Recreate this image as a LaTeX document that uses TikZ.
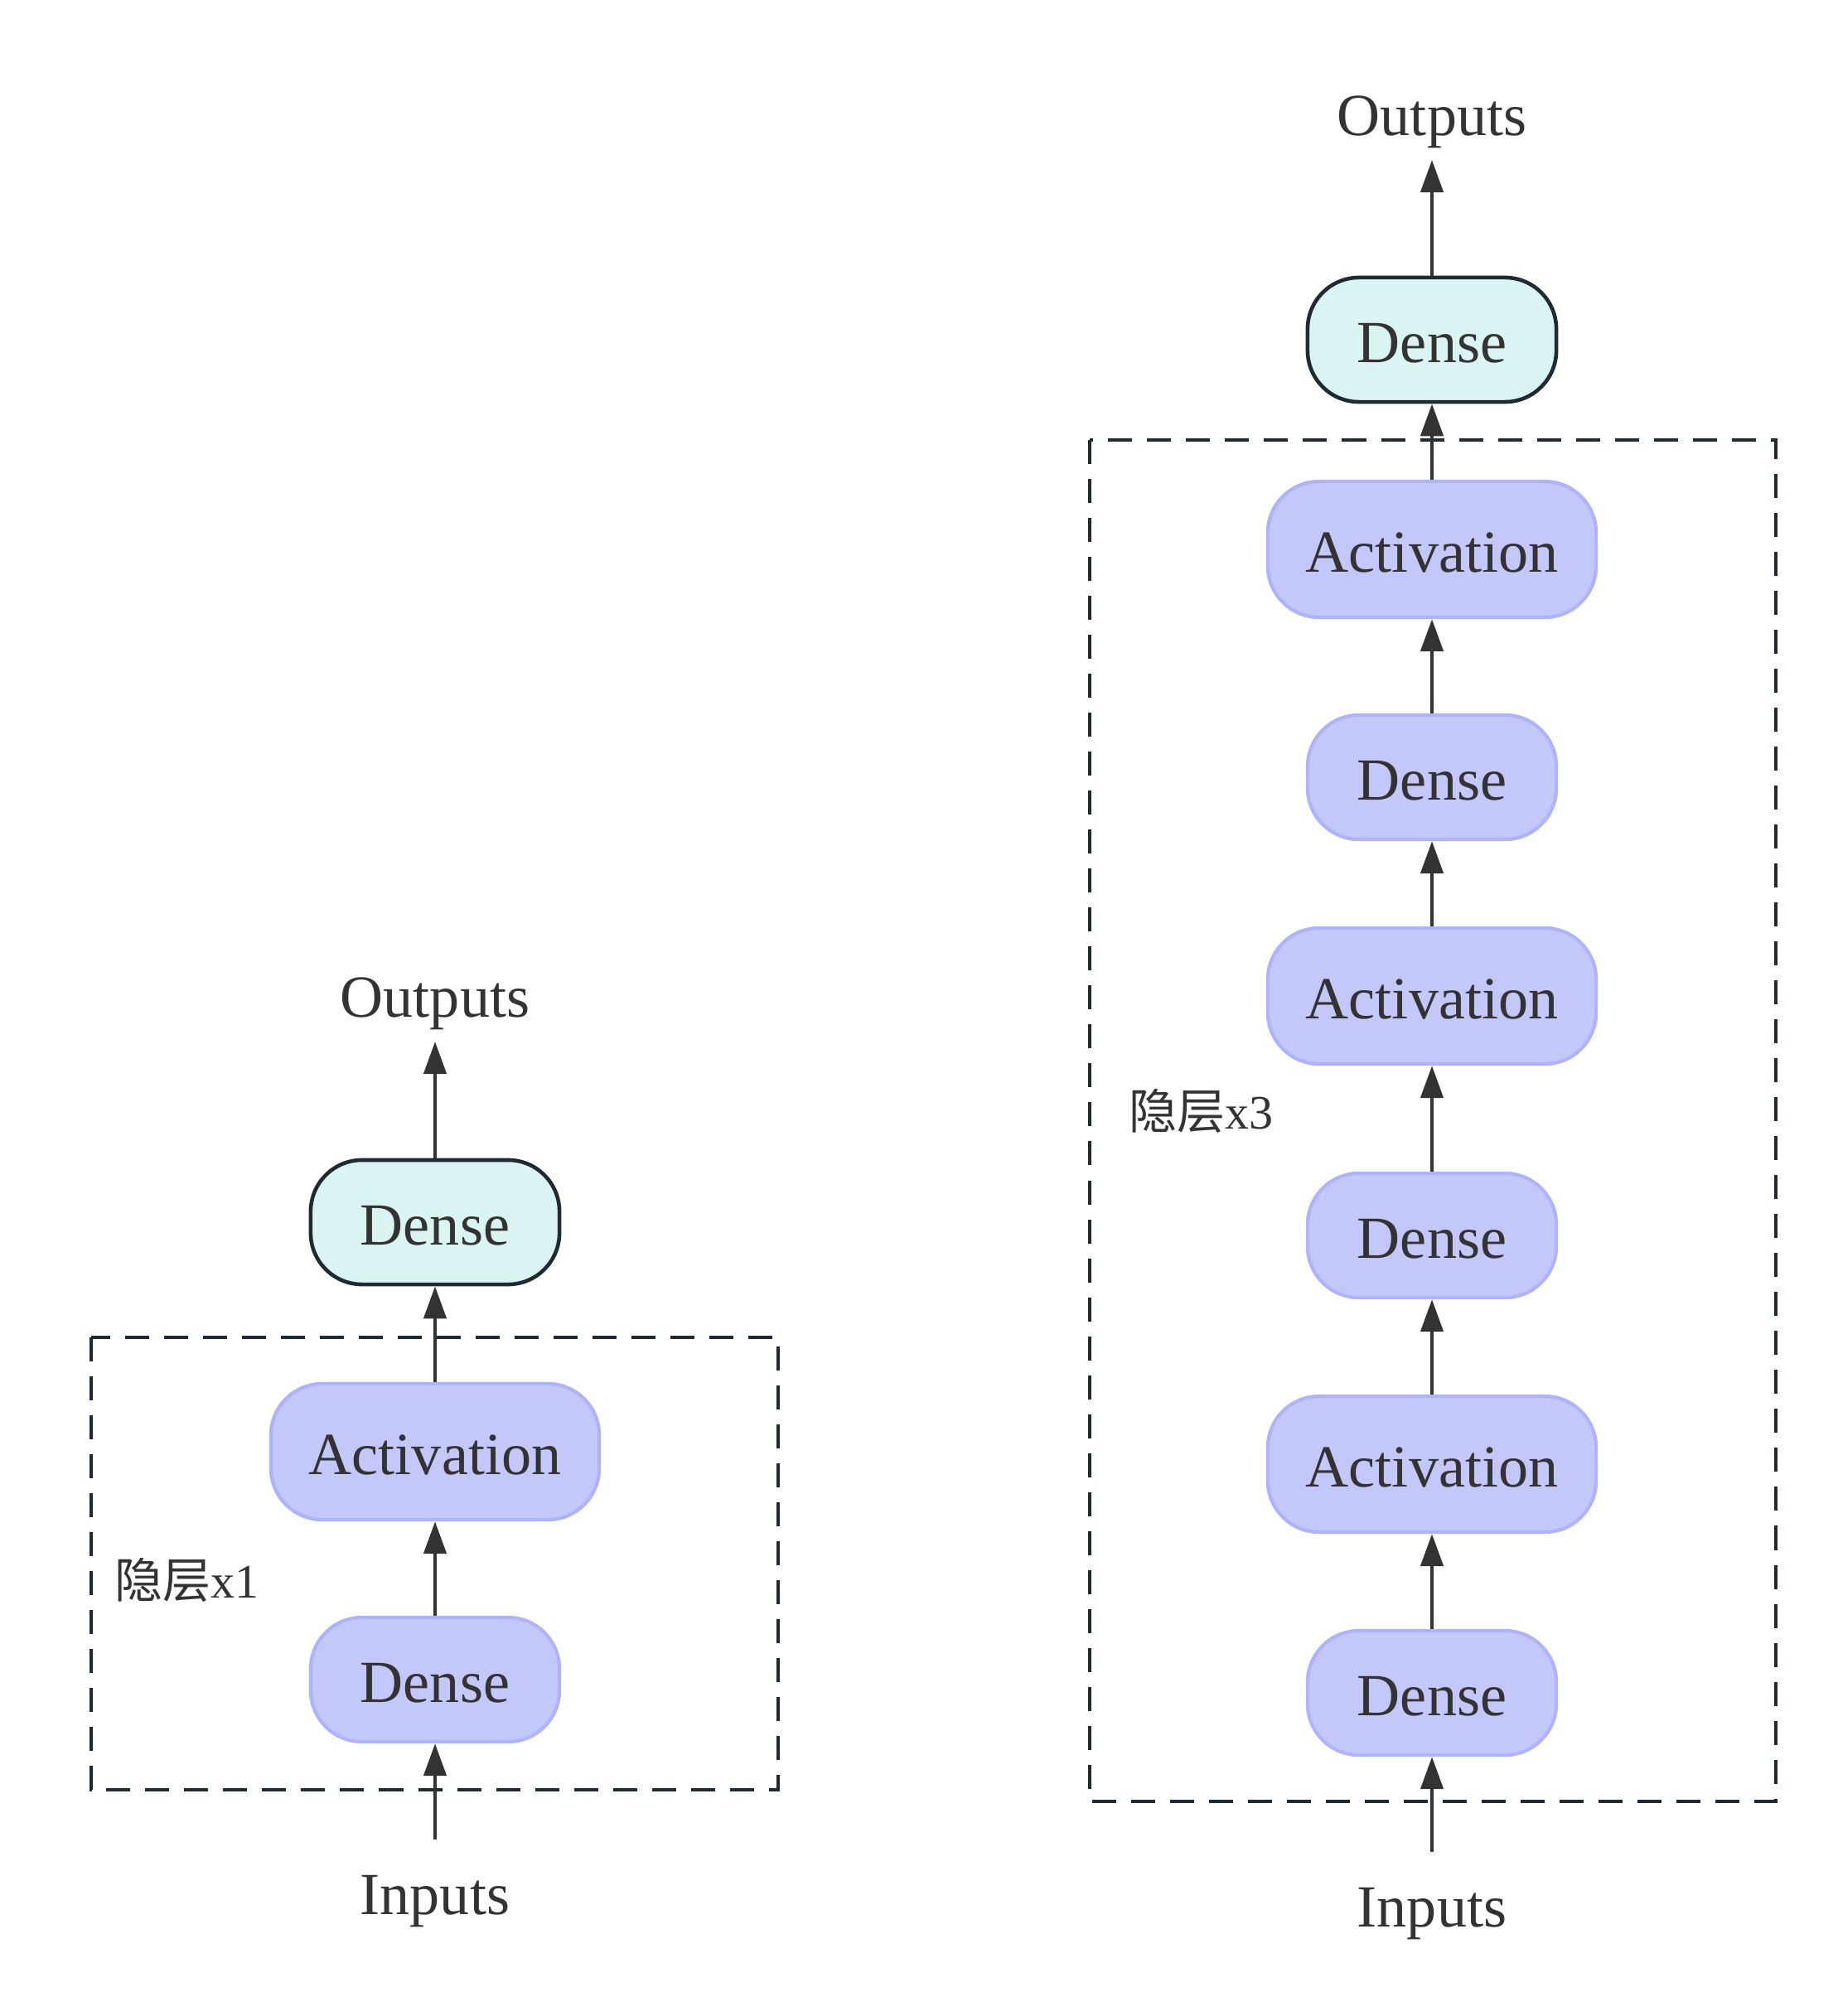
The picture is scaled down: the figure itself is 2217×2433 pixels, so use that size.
\documentclass[tikz,border=0pt]{standalone}
\usepackage{fontspec}
\setmainfont{Liberation Serif}
\newfontfamily\cjk{Noto Sans CJK SC}
\usetikzlibrary{arrows.meta}
\definecolor{txtgray}{HTML}{333333}
\definecolor{layerblue}{HTML}{C3C7FA}
\definecolor{layerline}{HTML}{AEB4FB}
\definecolor{outcyan}{HTML}{DAF4F4}
\definecolor{outline}{HTML}{1F2A33}

\begin{document}
\begin{tikzpicture}[x = 0.01cm, y = -0.01cm,
  layer/.style = {draw = layerline, fill = layerblue, line width = 1.2pt, rounded corners = 0.62cm,
    text = txtgray, inner sep = 0pt, text height = 0.6cm, text depth = 0.06cm,
    font = \fontsize{20.5}{24}\selectfont},
  dense/.style = {layer, minimum width = 3cm, minimum height = 1.5cm},
  act/.style = {layer, minimum width = 3.96cm, minimum height = 1.64cm},
  outdense/.style = {dense, draw = outline, fill = outcyan, line width = 1.3pt},
  io/.style = {text = txtgray, inner sep = 0.14cm, font = \fontsize{20.5}{24}\selectfont},
  grp/.style = {draw = outline, line width = 1.3pt, dash pattern = on 0.29cm off 0.18cm},
  grplabel/.style = {text = txtgray, inner sep = 0pt, font = \fontsize{16.5}{20}\selectfont},
  arr/.style = {draw = txtgray, line width = 1.3pt, -{Triangle[length = 0.39cm, width = 0.27cm]}}]
\useasboundingbox (0,0) rectangle (2217,2433);
% one hidden layer
\draw [grp] (110,1614) rectangle (939,2160);
\node [grplabel, anchor = base west] (hidL) at (138,1928) {{\cjk 隐层}x1};
\node [io, anchor = base] (inL) at (525,2310) {Inputs};
\node [dense] (d1L) at (525,2027) {Dense};
\node [act] (a1L) at (525,1752) {Activation};
\node [outdense] (outdL) at (525,1475) {Dense};
\node [io, anchor = base] (outL) at (525,1227) {Outputs};
\draw [arr, shorten <= 0.28cm] (inL) -- (d1L);
\draw [arr] (d1L) -- (a1L);
\draw [arr] (a1L) -- (outdL);
\draw [arr] (outdL) -- (outL);
% three hidden layers
\draw [grp] (1315,531) rectangle (2143,2174);
\node [grplabel, anchor = base west] (hidR) at (1362,1362) {{\cjk 隐层}x3};
\node [io, anchor = base] (inR) at (1728,2325) {Inputs};
\node [dense] (d1R) at (1728,2043) {Dense};
\node [act] (a1R) at (1728,1767) {Activation};
\node [dense] (d2R) at (1728,1491) {Dense};
\node [act] (a2R) at (1728,1202) {Activation};
\node [dense] (d3R) at (1728,938) {Dense};
\node [act] (a3R) at (1728,663) {Activation};
\node [outdense] (outdR) at (1728,410) {Dense};
\node [io, anchor = base] (outR) at (1728,163) {Outputs};
\draw [arr, shorten <= 0.28cm] (inR) -- (d1R);
\draw [arr] (d1R) -- (a1R);
\draw [arr] (a1R) -- (d2R);
\draw [arr] (d2R) -- (a2R);
\draw [arr] (a2R) -- (d3R);
\draw [arr] (d3R) -- (a3R);
\draw [arr] (a3R) -- (outdR);
\draw [arr] (outdR) -- (outR);
\end{tikzpicture}
\end{document}
